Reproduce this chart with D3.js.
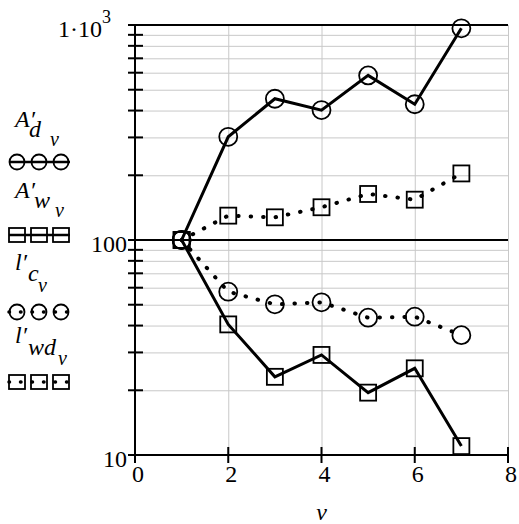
<!DOCTYPE html>
<html><head><meta charset="utf-8"><script src="https://cdn.jsdelivr.net/npm/d3@7"></script></head>
<body style="margin:0">
<script>
var width = 519,
    height = 524,
    plotLeft = 135, plotRight = 508, plotTop = 25, plotBottom = 455;

// data
var vIndex = [1, 2, 3, 4, 5, 6, 7];
var Ad  = [100, 302, 454, 402, 583, 428, 965];
var Aw  = [100, 40.5, 23.1, 29.2, 19.5, 25.3, 11.0];
var lc  = [100, 57.5, 50.2, 51.3, 43.5, 44, 36.1];
var lwd = [100, 129.8, 127.5, 142, 163.7, 154, 204];

var xTicks = [0, 2, 4, 6, 8];
var yMinor = [20, 30, 40, 50, 60, 70, 80, 90, 200, 300, 400, 500, 600, 700, 800, 900];
var yMajor = [10, 100, 1000];

var series = [
  {name: "A'd", values: Ad,  symbol: "circle", dotted: false},
  {name: "A'w", values: Aw,  symbol: "square", dotted: false},
  {name: "l'c", values: lc,  symbol: "circle", dotted: true},
  {name: "l'wd", values: lwd, symbol: "square", dotted: true}
];

var x = d3.scaleLinear().domain([0, 8]).range([plotLeft, plotRight]);
var y = d3.scaleLog().domain([10, 1000]).range([plotBottom, plotTop]);

var svg = d3.select("body").append("svg")
    .attr("width", width)
    .attr("height", height);

function label(txt, px, py, size, italic, anchor) {
  return svg.append("text")
      .attr("x", px).attr("y", py)
      .attr("font-size", size)
      .attr("text-anchor", anchor || "start")
      .attr("font-style", italic ? "italic" : "normal")
      .style("font-family", "'Liberation Serif'")
      .text(txt);
}

// gridlines
var gy = svg.append("g")
    .attr("transform", "translate(" + plotLeft + ",0)")
    .call(d3.axisLeft(y).tickValues(yMinor).tickSize(-(plotRight - plotLeft)).tickFormat(""));
var gx = svg.append("g")
    .attr("transform", "translate(0," + plotBottom + ")")
    .call(d3.axisBottom(x).tickValues([2, 4, 6, 8]).tickSize(plotBottom - plotTop).tickFormat(""));
gx.selectAll("line").attr("y2", -(plotBottom - plotTop));
[gy, gx].forEach(function(g) {
  g.select(".domain").remove();
  g.selectAll("line").attr("stroke", "#c8c8c8").attr("stroke-width", 1);
});

// black major lines
svg.selectAll(".major")
    .data(yMajor)
  .enter().append("line")
    .attr("x1", plotLeft - 7)
    .attr("x2", plotRight)
    .attr("y1", function(d) { return y(d); })
    .attr("y2", function(d) { return y(d); })
    .attr("stroke", "#000")
    .attr("stroke-width", 2);

// y tick marks crossing the axis
svg.selectAll(".ytick")
    .data(yMinor)
  .enter().append("line")
    .attr("x1", plotLeft - 7)
    .attr("x2", plotLeft + 8)
    .attr("y1", function(d) { return y(d); })
    .attr("y2", function(d) { return y(d); })
    .attr("stroke", "#000")
    .attr("stroke-width", 2);

// left axis line
svg.append("line")
    .attr("x1", plotLeft).attr("x2", plotLeft)
    .attr("y1", plotTop).attr("y2", plotBottom + 8)
    .attr("stroke", "#000").attr("stroke-width", 2);

// x tick marks
svg.selectAll(".xtick")
    .data([2, 4, 6, 8])
  .enter().append("line")
    .attr("x1", function(d) { return x(d); })
    .attr("x2", function(d) { return x(d); })
    .attr("y1", plotBottom - 8)
    .attr("y2", plotBottom + 8)
    .attr("stroke", "#000")
    .attr("stroke-width", 2);

// tick labels
xTicks.forEach(function(d) { label(d, x(d) + 3, 482, 24, false, "middle"); });
label("100", 127, y(100) + 12, 24, false, "end");
label("10", 127, y(10) + 12, 24, false, "end");
var topLabel = label("1\u00b710", 58, 37, 24, false);
topLabel.append("tspan").attr("dy", -14).attr("font-size", 18).text("3");

// axis title
label("v", x(4), 520, 24, true, "middle");

// series lines
var line = d3.line()
    .x(function(d, i) { return x(vIndex[i]); })
    .y(function(d) { return y(d); });

series.forEach(function(s) {
  svg.append("path")
      .datum(s.values)
      .attr("d", line)
      .attr("fill", "none")
      .attr("stroke", "#000")
      .attr("stroke-width", s.dotted ? 4 : 3)
      .attr("stroke-linecap", s.dotted ? "round" : "butt")
      .attr("stroke-dasharray", s.dotted ? "0.5,12" : null);

  drawMarkers(s.symbol, s.values.map(function(d, i) { return [x(vIndex[i]), y(d)]; }), 9, 16, 16);
});

function drawMarkers(symbol, pts, r, w, h) {
  if (symbol === "circle") {
    svg.selectAll(null).data(pts).enter().append("circle")
        .attr("cx", function(d) { return d[0]; })
        .attr("cy", function(d) { return d[1]; })
        .attr("r", r)
        .attr("fill", "none")
        .attr("stroke", "#000")
        .attr("stroke-width", 1.8);
  } else {
    svg.selectAll(null).data(pts).enter().append("rect")
        .attr("x", function(d) { return d[0] - w / 2; })
        .attr("y", function(d) { return d[1] - h / 2; })
        .attr("width", w)
        .attr("height", h)
        .attr("fill", "none")
        .attr("stroke", "#000")
        .attr("stroke-width", 1.8);
  }
}

// legend
var legend = [
  {main: "A\u2032", sub: "d", mainX: 15, mainY: 127, subX: 29, subY: 137, vX: 50, vY: 146, symY: 162},
  {main: "A\u2032", sub: "w", mainX: 15, mainY: 198, subX: 34, subY: 208, vX: 55, vY: 217, symY: 235},
  {main: "l\u2032", sub: "c", mainX: 15, mainY: 270, subX: 28, subY: 281, vX: 38, vY: 292, symY: 312},
  {main: "l\u2032", sub: "wd", mainX: 15, mainY: 343, subX: 28, subY: 355, vX: 58, vY: 365, symY: 382}
];

legend.forEach(function(l, i) {
  var s = series[i];
  label(l.main, l.mainX, l.mainY, 24, true);
  label(l.sub, l.subX, l.subY, 24, true);
  label("v", l.vX, l.vY, 20, true);

  svg.append("line")
      .attr("x1", 9).attr("x2", 70)
      .attr("y1", l.symY).attr("y2", l.symY)
      .attr("stroke", "#000")
      .attr("stroke-width", s.dotted ? 3.5 : 2.5)
      .attr("stroke-linecap", s.dotted ? "round" : "butt")
      .attr("stroke-dasharray", s.dotted ? "0.5,11" : null);

  drawMarkers(s.symbol, [[17, l.symY], [39, l.symY], [61, l.symY]], 7.5, 16, 14);
});
</script>
</body>
</html>
